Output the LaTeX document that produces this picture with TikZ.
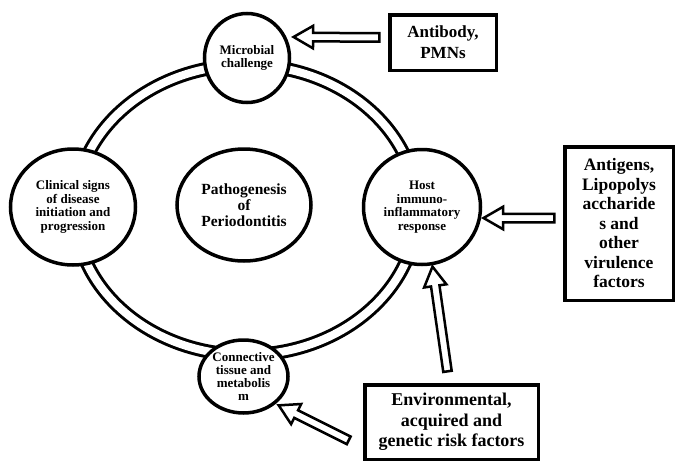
\documentclass[tikz,border=0pt]{standalone}
\usepackage{fontspec}
\setmainfont{Liberation Serif}
\usetikzlibrary{shapes.geometric, shapes.arrows, calc}

\tikzset{
  stage/.style={ellipse, draw, line width=3.5pt, fill=white, align=center,
    inner sep=0pt, font=\bfseries\fontsize{13}{13.5}\selectfont},
  factor/.style={rectangle, draw, line width=3.5pt, fill=white, align=center,
    inner sep=0pt, font=\bfseries\fontsize{17.5}{20}\selectfont},
  hollow/.style={single arrow, draw, line width=2.5pt, fill=white,
    inner xsep=0pt, inner ysep=3pt, minimum width=0pt,
    single arrow head extend=7pt, single arrow tip angle=60,
    single arrow head indent=0pt},
  ring/.style={draw, line width=3pt, double, double distance=8pt},
}

% hollow block arrow from tail (#1) to tip (#2)
\newcommand{\harrow}[2]{%
  \path let \p1=($(#2)-(#1)$), \n1={veclen(\x1,\y1)} in
    (#1) -- node[hollow, sloped, allow upside down, minimum height=\n1] {} (#2);
}

\begin{document}
\begin{tikzpicture}[x=1pt, y=-1pt]
  \useasboundingbox (0,0) rectangle (681,461);

  % cycle ring
  \draw[ring] (246,210) ellipse [x radius=171pt, y radius=145pt];

  % stages of the cycle
  \node[stage, minimum width=85pt, minimum height=89pt] (micro) at (247,58)
    {Microbial\\challenge};
  \node[stage, minimum width=125pt, minimum height=116pt] (clin) at (73,207)
    {Clinical signs\\of disease\\initiation and\\progression};
  \node[stage, minimum width=134pt, minimum height=112pt,
    font=\bfseries\fontsize{15.5}{16}\selectfont] (patho) at (244,205)
    {Pathogenesis\\of\\Periodontitis};
  \node[stage, minimum width=117pt, minimum height=115pt] (host) at (422,207)
    {Host\\immuno-\\inflammatory\\response};
  \node[stage, minimum width=89pt, minimum height=73pt,
    font=\bfseries\fontsize{13}{13}\selectfont] (conn) at (243.5,376.5)
    {Connective\\tissue and\\metabolis\\m};

  % factors
  \node[factor, minimum width=106.5pt, minimum height=55.5pt,
    font=\bfseries\fontsize{17}{21}\selectfont] (abox) at (443,42.5)
    {Antibody,\\PMNs};
  \node[factor, minimum width=108.5pt, minimum height=153.5pt,
    font=\bfseries\fontsize{17.5}{19.5}\selectfont] (agbox) at (619,223.5)
    {Antigens,\\Lipopolys\\accharide\\s and\\other\\virulence\\factors};
  \node[factor, minimum width=173.5pt, minimum height=74.5pt,
    font=\bfseries\fontsize{18}{20.5}\selectfont] (envbox) at (451.5,422)
    {Environmental,\\acquired and\\genetic risk factors};

  % arrows
  \harrow{[xshift=-5pt,yshift=5pt]abox.west}{[xshift=6pt,yshift=21pt]micro.east}
  \harrow{[xshift=-5pt,yshift=5.5pt]agbox.west}{[xshift=5pt,yshift=-11pt]host.east}
  \harrow{[xshift=-3.5pt,yshift=8pt]envbox.north}{[xshift=11pt,yshift=-4pt]host.south}
  \harrow{[xshift=-11pt,yshift=-20pt]envbox.west}{[shift={(38.5pt,-30.5pt)}]conn.center}
\end{tikzpicture}
\end{document}
